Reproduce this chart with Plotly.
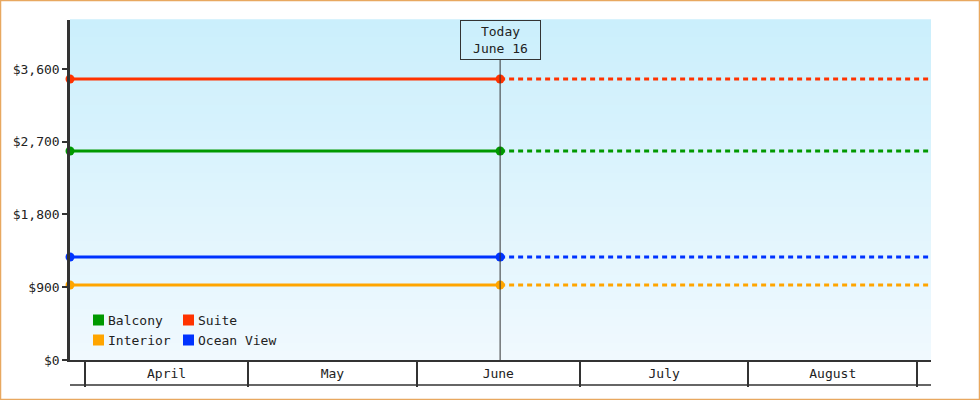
import plotly.graph_objects as go
from datetime import datetime

# price per cabin category, flat across the period
categories = ["Balcony", "Suite", "Interior", "Ocean View"]
prices = [2586, 3476, 928, 1274]
colors = ["#009900", "#ff3300", "#ffa500", "#0033ff"]

x_start = "2024-03-29 05:46"
x_end = "2024-09-03 13:40"
today = "2024-06-16 08:00"
today_label = "Today<br>June 16"

month_starts = ["2024-04-01", "2024-05-01", "2024-06-01", "2024-07-01", "2024-08-01", "2024-09-01"]
month_names = ["April", "May", "June", "July", "August"]

y_ticks = [0, 900, 1800, 2700, 3600]
y_max = 4206

W, H = 980, 400
ML, MR, MT, MB = 70, 49, 20, 40
PW, PH = W - ML - MR, H - MT - MB


def mid(a, b):
    da = datetime.fromisoformat(a)
    db = datetime.fromisoformat(b)
    return (da + (db - da) / 2).strftime("%Y-%m-%d %H:%M")


month_mids = [mid(month_starts[i], month_starts[i + 1]) for i in range(len(month_names))]

fig = go.Figure()

for name, p, c in zip(categories, prices, colors):
    fig.add_trace(go.Scatter(
        x=[x_start, today], y=[p, p], mode="lines+markers", name=name,
        line=dict(color=c, width=3), marker=dict(size=9, color=c),
        showlegend=False, cliponaxis=False, hoverinfo="skip"))
    fig.add_trace(go.Scatter(
        x=[today, x_end], y=[p, p], mode="lines", name=name,
        line=dict(color=c, width=3, dash="5px,4px"),
        showlegend=False, hoverinfo="skip"))

# label axis for month names
fig.add_trace(go.Scatter(x=[x_start], y=[None], xaxis="x2", showlegend=False, hoverinfo="skip"))

font = dict(family="DejaVu Sans Mono", size=13, color="#222")

shapes = []
annotations = []
# vertical gradient background
top = (203, 239, 252)
bot = (240, 249, 254)
n = 40
for i in range(n):
    t = i / (n - 1)
    col = tuple(round(bot[k] + (top[k] - bot[k]) * t) for k in range(3))
    shapes.append(dict(type="rect", xref="paper", yref="paper",
                       x0=0, x1=1, y0=i / n, y1=(i + 1) / n + 0.002,
                       fillcolor="rgb(%d,%d,%d)" % col, line=dict(width=0), layer="below"))

# today marker line
shapes.append(dict(type="line", xref="x", yref="paper", x0=today, x1=today,
                   y0=0, y1=(PH - 40) / PH, line=dict(color="#333", width=1)))
# bottom line of month band
shapes.append(dict(type="line", xref="paper", yref="paper", x0=0, x1=1,
                   y0=-25 / PH, y1=-25 / PH, line=dict(color="#333", width=1.5)))
# outer border
shapes.append(dict(type="rect", xref="paper", yref="paper",
                   x0=(-ML + 0.5) / PW, x1=1 + (MR - 0.5) / PW,
                   y0=(-MB + 0.5) / PH, y1=1 + (MT - 0.5) / PH,
                   line=dict(color="#e8a860", width=1.5), fillcolor="rgba(0,0,0,0)", layer="above"))

annotations.append(dict(
    text=today_label, x=today, xref="x", y=1, yref="paper",
    xanchor="center", yanchor="top", showarrow=False,
    width=73, height=32, align="center", valign="middle",
    bordercolor="#333", borderwidth=1, borderpad=3, font=font))

# legend: two columns of colour swatches with names
leg_x = [93, 183]
leg_y = [320, 340]
for i, (name, c) in enumerate(zip(categories, colors)):
    px = leg_x[i % 2]
    py = leg_y[i // 2]
    x0 = (px - ML) / PW
    x1 = (px + 11 - ML) / PW
    y0 = (MT + PH - py - 5.5) / PH
    y1 = (MT + PH - py + 5.5) / PH
    shapes.append(dict(type="rect", xref="paper", yref="paper", x0=x0, x1=x1, y0=y0, y1=y1,
                       fillcolor=c, line=dict(width=0)))
    annotations.append(dict(text=name, xref="paper", yref="paper",
                            x=(px + 13 - ML) / PW, y=(MT + PH - py) / PH,
                            xanchor="left", yanchor="middle", showarrow=False, font=font))

fig.update_layout(
    width=W, height=H,
    margin=dict(l=ML, r=MR, t=MT, b=MB),
    paper_bgcolor="white", plot_bgcolor="rgba(0,0,0,0)",
    font=font,
    shapes=shapes,
    annotations=annotations,
    showlegend=False,
    xaxis=dict(
        type="date", range=[x_start, x_end],
        tickvals=month_starts, ticktext=[""] * len(month_starts),
        ticks="outside", ticklen=25, tickwidth=1.5, tickcolor="#333",
        showgrid=False, zeroline=False,
        showline=True, linecolor="#333", linewidth=1.5),
    xaxis2=dict(
        type="date", range=[x_start, x_end], overlaying="x", side="bottom",
        tickvals=month_mids, ticktext=month_names, ticks="",
        showgrid=False, zeroline=False, showline=False, ticklabelstandoff=4),
    yaxis=dict(
        range=[0, y_max], tickvals=y_ticks,
        ticktext=["$" + format(v, ",") for v in y_ticks],
        ticks="outside", ticklen=5, tickwidth=2, tickcolor="#333",
        showgrid=False, zeroline=False,
        showline=True, linecolor="#333", linewidth=2.5),
)

fig.write_html("out.html", config={"displayModeBar": False},
               post_script="document.body.style.margin='0';")
